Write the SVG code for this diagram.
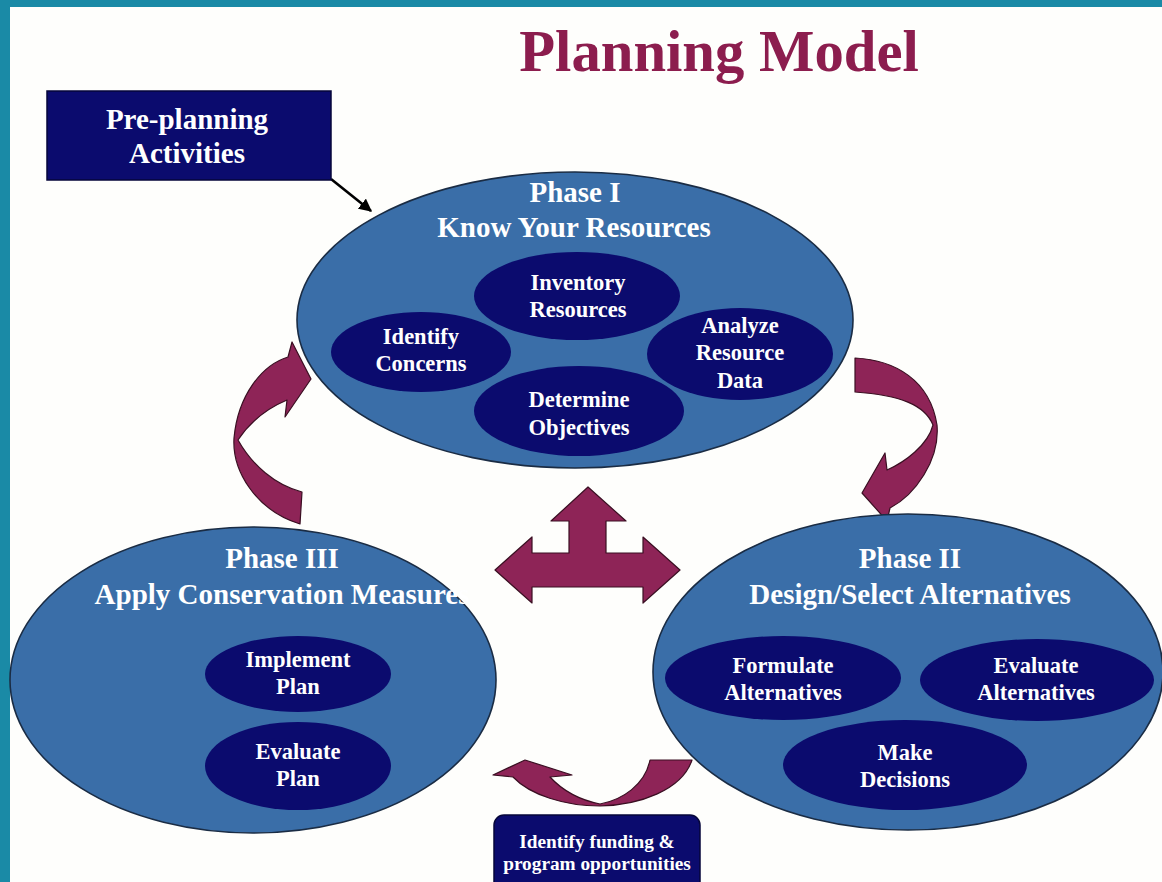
<svg xmlns="http://www.w3.org/2000/svg" width="1162" height="882" viewBox="0 0 1162 882">
  <defs>
    <style>
      text { font-family: "Liberation Serif", "Times New Roman", serif; font-weight: bold; text-anchor: middle; fill: #ffffff; }
      .title { fill: #8c1d4e; font-size: 58.7px; }
      .box { fill: #0b0b6e; stroke: #06063a; stroke-width: 1.5; }
      .phase { fill: #3a6ea8; stroke: #1a2c44; stroke-width: 1.6; }
      .task { fill: #0b0b6e; }
      .ph { font-size: 29px; }
      .tk { font-size: 22.5px; }
      .pre { font-size: 29px; }
      .fund { font-size: 19.3px; }
      .flow { fill: #8e2457; stroke: #3a0f22; stroke-width: 1.2; stroke-linejoin: round; }
    </style>
    <marker id="arrowhead" viewBox="0 0 10 10" refX="9" refY="5" markerWidth="5" markerHeight="5" orient="auto">
      <path d="M0,0 L10,5 L0,10 Z" fill="#000000"/>
    </marker>
  </defs>

  <!-- page and frame -->
  <rect x="0" y="0" width="1162" height="882" fill="#fefefc"/>
  <rect x="0" y="0" width="1162" height="7" fill="#1a8aa6"/>
  <rect x="0" y="0" width="10" height="882" fill="#1a8aa6"/>

  <g id="title">
    <text class="title" x="719" y="71">Planning Model</text>
  </g>

  <!-- connectors -->
  <g id="connectors">
    <line x1="331" y1="179" x2="371" y2="211" stroke="#000000" stroke-width="2.6" marker-end="url(#arrowhead)"/>
    <!-- Phase III back to Phase I -->
    <path class="flow" d="M 302 492 C 275 485, 252 465, 238 440 C 250 422, 268 408, 287 400 L 285 417 L 311 379 L 292 342 L 288 357 C 262 365, 238 395, 234 438 C 232 470, 255 510, 300 524 Z"/>
    <!-- Phase I to Phase II -->
    <path class="flow" d="M 855 358 C 895 360, 930 380, 937 425 C 940 460, 915 495, 890 508 L 887 521 L 862 493 L 885 453 L 887 470 C 905 462, 928 445, 933 425 C 925 405, 900 395, 855 392 Z"/>
    <!-- Phase II to Phase III -->
    <path class="flow" d="M 692 760 L 650 760 C 645 785, 622 800, 600 804 C 580 800, 562 790, 550 777 L 572 775 L 525 760 L 493 775 L 513 777 C 530 795, 565 806, 600 806 C 640 805, 682 790, 692 760 Z"/>
    <!-- three-way link in the centre -->
    <polygon class="flow" points="588,487 626,521 606,521 606,553 643,553 643,537 680,570 643,603 643,587 532,587 532,603 495,570 532,537 532,553 569,553 569,521 551,521"/>
  </g>

  <g id="node-preplanning">
    <rect class="box" x="47" y="91" width="284" height="89"/>
    <text class="pre" x="187" y="129">Pre-planning</text>
    <text class="pre" x="187" y="163">Activities</text>
  </g>

  <g id="node-phase1">
    <ellipse class="phase" cx="575" cy="320" rx="278" ry="148"/>
    <text class="ph" x="575" y="202">Phase I</text>
    <text class="ph" x="574" y="237">Know Your Resources</text>
    <g id="task-inventory">
      <ellipse class="task" cx="577" cy="296" rx="103" ry="44"/>
      <text class="tk" x="578" y="290">Inventory</text>
      <text class="tk" x="578" y="317">Resources</text>
    </g>
    <g id="task-concerns">
      <ellipse class="task" cx="421" cy="352" rx="90" ry="40"/>
      <text class="tk" x="421" y="344">Identify</text>
      <text class="tk" x="421" y="371">Concerns</text>
    </g>
    <g id="task-analyze">
      <ellipse class="task" cx="740" cy="354" rx="93" ry="46"/>
      <text class="tk" x="740" y="333">Analyze</text>
      <text class="tk" x="740" y="360">Resource</text>
      <text class="tk" x="740" y="388">Data</text>
    </g>
    <g id="task-objectives">
      <ellipse class="task" cx="579" cy="411" rx="105" ry="45"/>
      <text class="tk" x="579" y="407">Determine</text>
      <text class="tk" x="579" y="435">Objectives</text>
    </g>
  </g>

  <g id="node-phase3">
    <ellipse class="phase" cx="253" cy="680" rx="243" ry="153"/>
    <text class="ph" x="282" y="568">Phase III</text>
    <text class="ph" x="282" y="604">Apply Conservation Measures</text>
    <g id="task-implement">
      <ellipse class="task" cx="298" cy="674" rx="93" ry="38"/>
      <text class="tk" x="298" y="667">Implement</text>
      <text class="tk" x="298" y="694">Plan</text>
    </g>
    <g id="task-evaluate-plan">
      <ellipse class="task" cx="298" cy="766" rx="93" ry="44"/>
      <text class="tk" x="298" y="759">Evaluate</text>
      <text class="tk" x="298" y="786">Plan</text>
    </g>
  </g>

  <g id="node-phase2">
    <ellipse class="phase" cx="908" cy="672" rx="255" ry="158"/>
    <text class="ph" x="910" y="568">Phase II</text>
    <text class="ph" x="910" y="604">Design/Select Alternatives</text>
    <g id="task-formulate">
      <ellipse class="task" cx="783" cy="678" rx="118" ry="42"/>
      <text class="tk" x="783" y="673">Formulate</text>
      <text class="tk" x="783" y="700">Alternatives</text>
    </g>
    <g id="task-evaluate-alt">
      <ellipse class="task" cx="1037" cy="680" rx="117" ry="41"/>
      <text class="tk" x="1036" y="673">Evaluate</text>
      <text class="tk" x="1036" y="700">Alternatives</text>
    </g>
    <g id="task-decisions">
      <ellipse class="task" cx="905" cy="765" rx="122" ry="45"/>
      <text class="tk" x="905" y="760">Make</text>
      <text class="tk" x="905" y="787">Decisions</text>
    </g>
  </g>

  <g id="node-funding">
    <rect class="box" x="494" y="815" width="206" height="80" rx="10" ry="10"/>
    <text class="fund" x="597" y="848">Identify funding &amp;</text>
    <text class="fund" x="597" y="870">program opportunities</text>
  </g>
</svg>
